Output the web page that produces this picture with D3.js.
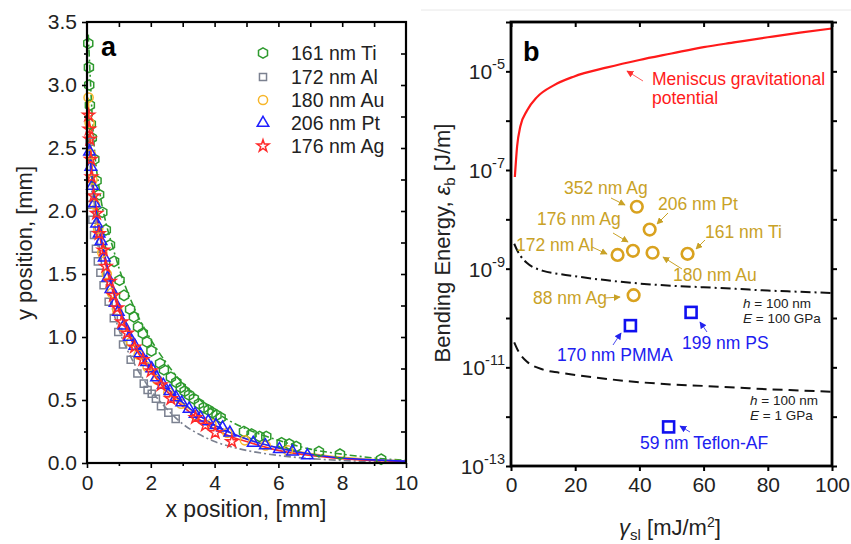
<!DOCTYPE html>
<html>
<head>
<meta charset="utf-8">
<script src="https://cdn.jsdelivr.net/npm/d3@7"></script>
<style>
  body { margin: 0; background: #fff; }
  text { font-family: "Liberation Sans", Arial, sans-serif; }
</style>
</head>
<body>
<script>
var width = 851, height = 544;

// ---- panel a data: [x mm, y mm]
var tiPts = [[0.04,3.33],[0.06,3.14],[0.07,3.00],[0.09,2.84],[0.12,2.69],[0.15,2.58],[0.23,2.41],[0.30,2.24],[0.38,2.13],[0.48,1.99],[0.59,1.85],[0.72,1.73],[0.85,1.60],[1.02,1.45],[1.16,1.33],[1.35,1.22],[1.47,1.16],[1.60,1.08],[1.75,1.03],[1.88,0.96],[2.02,0.89],[2.29,0.79],[2.41,0.74],[2.63,0.68],[2.80,0.64],[2.94,0.60],[3.06,0.57],[3.20,0.54],[3.35,0.51],[3.51,0.47],[3.66,0.44],[3.81,0.42],[3.93,0.40],[4.06,0.38],[4.19,0.36],[4.92,0.25],[5.16,0.23],[5.41,0.21],[5.62,0.21],[6.10,0.16],[6.34,0.15],[6.56,0.13],[7.27,0.09],[7.93,0.07],[9.22,0.03]];
var alPts = [[0.08,2.55],[0.12,2.05],[0.17,1.93],[0.22,1.81],[0.28,1.70],[0.34,1.60],[0.42,1.51],[0.52,1.41],[0.68,1.28],[0.84,1.15],[0.98,1.04],[1.13,0.94],[1.37,0.82],[1.58,0.71],[1.78,0.63],[1.90,0.58],[2.03,0.55],[2.16,0.51],[2.32,0.45],[2.55,0.40],[2.78,0.35]];
var auPts = [[0.05,2.90],[0.08,2.70],[0.12,2.45],[0.17,2.25],[0.25,2.05],[0.35,1.86],[0.48,1.67],[0.62,1.50],[0.78,1.35],[0.95,1.21],[1.15,1.08],[1.38,0.96],[1.62,0.86],[1.90,0.76],[2.20,0.66],[2.55,0.56],[2.95,0.47],[3.40,0.38],[3.90,0.31],[4.40,0.24],[4.95,0.18],[5.60,0.14],[6.30,0.10]];
var ptPts = [[0.08,2.47],[0.12,2.35],[0.17,2.20],[0.23,2.06],[0.30,1.90],[0.38,1.82],[0.44,1.76],[0.54,1.63],[0.65,1.47],[0.75,1.38],[0.88,1.27],[0.98,1.20],[1.16,1.09],[1.33,1.00],[1.50,0.93],[1.66,0.87],[1.87,0.80],[2.03,0.75],[2.18,0.68],[2.39,0.62],[2.60,0.57],[2.79,0.52],[2.97,0.48],[3.20,0.43],[3.39,0.39],[3.56,0.36],[3.80,0.33],[4.04,0.30],[4.25,0.28],[4.48,0.24],[5.21,0.16],[5.59,0.14],[6.03,0.11],[6.44,0.09],[6.91,0.06]];
var agPts = [[0.05,2.76],[0.07,2.65],[0.09,2.57],[0.12,2.41],[0.14,2.27],[0.21,2.12],[0.30,1.98],[0.38,1.82],[0.51,1.69],[0.59,1.56],[0.72,1.44],[0.83,1.33],[0.95,1.23],[1.09,1.12],[1.26,1.03],[1.49,0.92],[1.75,0.82],[2.01,0.73],[2.32,0.62],[2.63,0.51],[3.40,0.36],[3.71,0.30],[4.02,0.24],[4.54,0.17]];

// fitted profiles
var tiFit = [[0.04,3.40],[0.2,2.60],[0.4,2.15],[0.6,1.90],[0.8,1.72],[1.0,1.55],[1.5,1.22],[2.0,0.98],[2.5,0.79],[3.0,0.63],[3.5,0.51],[4.0,0.41],[4.5,0.33],[5.0,0.27],[6.0,0.18],[7.0,0.11],[8.0,0.07],[9.0,0.04],[10,0.02]];
var alFit = [[0.04,2.60],[0.2,2.00],[0.4,1.65],[0.6,1.42],[0.8,1.22],[1.0,1.06],[1.5,0.78],[2.0,0.58],[2.5,0.43],[3.0,0.31],[3.5,0.23],[4.0,0.17],[4.5,0.13],[5.0,0.10],[6.0,0.06],[7.0,0.035],[8.0,0.02],[10,0.006]];
var auFit = [[0.04,2.90],[0.2,2.22],[0.4,1.84],[0.6,1.58],[0.8,1.38],[1.0,1.22],[1.5,0.93],[2.0,0.74],[2.5,0.59],[3.0,0.47],[3.5,0.38],[4.0,0.30],[4.5,0.24],[5.0,0.19],[6.0,0.12],[7.0,0.075],[8.0,0.045],[9.0,0.027],[10,0.015]];
var ptFit = [[0.04,2.55],[0.2,2.18],[0.4,1.85],[0.6,1.60],[0.8,1.40],[1.0,1.24],[1.5,0.95],[2.0,0.76],[2.5,0.60],[3.0,0.48],[3.5,0.38],[4.0,0.30],[4.5,0.24],[5.0,0.19],[6.0,0.12],[7.0,0.07],[8.0,0.04],[9.0,0.025],[10,0.015]];
var agFit = [[0.04,2.80],[0.2,2.15],[0.4,1.80],[0.6,1.56],[0.8,1.37],[1.0,1.21],[1.5,0.92],[2.0,0.73],[2.5,0.57],[3.0,0.45],[3.5,0.35],[4.0,0.27],[4.5,0.21],[5.0,0.17],[6.0,0.10],[7.0,0.06],[8.0,0.035],[9.0,0.02],[10,0.012]];

var legendNames = ["161 nm Ti", "172 nm Al", "180 nm Au", "206 nm Pt", "176 nm Ag"];
var xTicksA = [0, 2, 4, 6, 8, 10];
var yTicksA = [0, 0.5, 1.0, 1.5, 2.0, 2.5, 3.0, 3.5];

// ---- panel b data: [gamma_sl mJ/m2, energy J/m]
var meniscus = [[1.2,7.2e-8],[1.9,3e-7],[2.9,7.6e-7],[5,1.6e-6],[8.1,3e-6],[13.3,5.2e-6],[19.5,7.8e-6],[30,1.2e-5],[40,1.7e-5],[50,2.3e-5],[60,3.1e-5],[70,3.9e-5],[80,4.9e-5],[90,6.1e-5],[100,7.4e-5]];
var bend100GPa = [[1,3.2e-9],[2,2.3e-9],[3,1.8e-9],[5,1.3e-9],[10,9e-10],[15,7.8e-10],[20,7e-10],[30,5.8e-10],[40,5e-10],[50,4.5e-10],[60,4.2e-10],[70,3.9e-10],[80,3.6e-10],[90,3.4e-10],[100,3.2e-10]];
var bend1GPa = [[1,3.2e-11],[2,2.3e-11],[3,1.8e-11],[5,1.3e-11],[10,9e-12],[15,7.8e-12],[20,7e-12],[30,5.8e-12],[40,5e-12],[50,4.5e-12],[60,4.2e-12],[70,3.9e-12],[80,3.6e-12],[90,3.4e-12],[100,3.2e-12]];
var metalNames = ["352 nm Ag", "206 nm Pt", "176 nm Ag", "172 nm Al", "180 nm Au", "161 nm Ti", "88 nm Ag"];
var metalGamma = [39.2, 43.2, 38.0, 33.2, 44.1, 55.0, 38.2];
var metalEnergy = [1.8e-8, 6.2e-9, 2.3e-9, 1.9e-9, 2.1e-9, 2.0e-9, 2.9e-10];
var polyNames = ["170 nm PMMA", "199 nm PS", "59 nm Teflon-AF"];
var polyGamma = [37.2, 56.1, 49.1];
var polyEnergy = [7e-11, 1.3e-10, 6.2e-13];
var xTicksB = [0, 20, 40, 60, 80, 100];
var yExpB = [-13, -11, -9, -7, -5];

var svg = d3.select("body").append("svg")
    .attr("width", width)
    .attr("height", height);

var defs = svg.append("defs");
function arrowMarker(id, color) {
  defs.append("marker").attr("id", id)
    .attr("viewBox", "0 0 10 10").attr("refX", 9).attr("refY", 5)
    .attr("markerWidth", 7).attr("markerHeight", 7).attr("orient", "auto")
    .attr("markerUnits", "userSpaceOnUse")
    .append("path").attr("d", "M0,0 L10,5 L0,10 z").attr("fill", color);
}
arrowMarker("arGold", "#c9a227");
arrowMarker("arBlue", "#2222ee");
arrowMarker("arRed", "#ff3030");

// faint separator at top of panel b
svg.append("line").attr("x1", 421).attr("x2", 851).attr("y1", 10).attr("y2", 10)
  .attr("stroke", "#e8e8e8").attr("stroke-width", 1);

// ================= panel a =================
var colA = {ti: "#2e9a2e", al: "#7b8190", au: "#f7b62a", pt: "#1f1fff", ag: "#ff2a2a"};
var xA = d3.scaleLinear().domain([0, 10]).range([87, 406]);
var yA = d3.scaleLinear().domain([0, 3.5]).range([463, 22]);
var gA = svg.append("g");

function hexPath(r) {
  var p = [];
  for (var k = 0; k < 6; k++) {
    var a = Math.PI / 180 * (-90 + 60 * k);
    p.push([r * Math.cos(a), r * Math.sin(a)]);
  }
  return "M" + p.join("L") + "Z";
}
var shapes = {
  ti: hexPath(5.2),
  al: d3.symbol().type(d3.symbolSquare).size(50)(),
  au: d3.symbol().type(d3.symbolCircle).size(66)(),
  pt: d3.symbol().type(d3.symbolTriangle).size(58)(),
  ag: d3.symbol().type(d3.symbolStar).size(44)()
};

var lineA = d3.line().x(function(d) { return xA(d[0]); }).y(function(d) { return yA(d[1]); }).curve(d3.curveMonotoneX);
var fits = [
  {k: "al", d: alFit, dash: "7,3,2,3"},
  {k: "ti", d: tiFit, dash: "7,3,2,3"},
  {k: "au", d: auFit, dash: null},
  {k: "ag", d: agFit, dash: null},
  {k: "pt", d: ptFit, dash: null}
];
fits.forEach(function(f) {
  gA.append("path").attr("d", lineA(f.d)).attr("fill", "none")
    .attr("stroke", colA[f.k]).attr("stroke-width", 1.6)
    .attr("stroke-dasharray", f.dash);
});

var series = [
  {k: "ti", d: tiPts}, {k: "al", d: alPts}, {k: "au", d: auPts},
  {k: "pt", d: ptPts}, {k: "ag", d: agPts}
];
series.forEach(function(s) {
  gA.append("g").selectAll("path").data(s.d).enter().append("path")
    .attr("d", shapes[s.k])
    .attr("transform", function(d) { return "translate(" + xA(d[0]) + "," + yA(d[1]) + ")"; })
    .attr("fill", "none").attr("stroke", colA[s.k]).attr("stroke-width", 1.5);
});

// axes a
function styleAxis(g) {
  g.select(".domain").remove();
  g.selectAll(".tick line").attr("stroke", "#000").attr("stroke-width", 1.6);
  g.selectAll("text").attr("font-size", 21).attr("fill", "#222")
    .attr("font-family", "Liberation Sans, Arial, sans-serif");
}
gA.append("g").attr("transform", "translate(0,463)")
  .call(d3.axisBottom(xA).tickValues(xTicksA).tickSize(5).tickPadding(7).tickFormat(d3.format("d")))
  .call(styleAxis);
gA.append("g").attr("transform", "translate(0,463)")
  .call(d3.axisBottom(xA).tickValues(d3.range(1, 10, 2)).tickSize(3).tickFormat(""))
  .call(styleAxis);
gA.append("g").attr("transform", "translate(87,0)")
  .call(d3.axisLeft(yA).tickValues(yTicksA).tickSize(5).tickPadding(5).tickFormat(d3.format(".1f")))
  .call(styleAxis);
gA.append("g").attr("transform", "translate(87,0)")
  .call(d3.axisLeft(yA).tickValues(d3.range(0.25, 3.5, 0.5)).tickSize(3).tickFormat(""))
  .call(styleAxis);
gA.append("g").attr("transform", "translate(0,22)")
  .call(d3.axisBottom(xA).tickValues(d3.range(1, 10)).tickSize(5).tickFormat(""))
  .call(styleAxis);
gA.append("g").attr("transform", "translate(406,0)")
  .call(d3.axisLeft(yA).tickValues(d3.range(0.25, 3.5, 0.25)).tickSize(5).tickFormat(""))
  .call(styleAxis);
gA.append("rect").attr("x", 87).attr("y", 22).attr("width", 319).attr("height", 441)
  .attr("fill", "none").attr("stroke", "#000").attr("stroke-width", 2.2);

gA.append("text").attr("x", 101).attr("y", 56).attr("font-size", 27).attr("font-weight", "bold").text("a");

// legend a
var legKeys = ["ti", "al", "au", "pt", "ag"];
var legY = [53, 77, 100, 123, 146];
legKeys.forEach(function(k, i) {
  gA.append("path").attr("d", shapes[k]).attr("transform", "translate(263," + legY[i] + ")")
    .attr("fill", "none").attr("stroke", colA[k]).attr("stroke-width", 1.5);
  gA.append("text").attr("x", 291).attr("y", legY[i] + 7).attr("font-size", 19.5)
    .attr("fill", "#222").text(legendNames[i]);
});

gA.append("text").attr("transform", "translate(32,243) rotate(-90)")
  .attr("text-anchor", "middle").attr("font-size", 22).attr("fill", "#222").text("y position, [mm]");
gA.append("text").attr("x", 246).attr("y", 517)
  .attr("text-anchor", "middle").attr("font-size", 23).attr("fill", "#222").text("x position, [mm]");

// ================= panel b =================
var xB = d3.scaleLinear().domain([0, 100]).range([511, 832]);
var yB = d3.scaleLog().domain([1e-13, 1e-4]).range([466, 22]);
var gB = svg.append("g");

var lineB = d3.line().x(function(d) { return xB(d[0]); }).y(function(d) { return yB(d[1]); }).curve(d3.curveMonotoneX);
gB.append("path").attr("d", lineB(meniscus)).attr("fill", "none").attr("stroke", "#ff1a1a").attr("stroke-width", 2.2);
gB.append("path").attr("d", lineB(bend100GPa)).attr("fill", "none").attr("stroke", "#111")
  .attr("stroke-width", 2).attr("stroke-dasharray", "10,4,2,4");
gB.append("path").attr("d", lineB(bend1GPa)).attr("fill", "none").attr("stroke", "#111")
  .attr("stroke-width", 2).attr("stroke-dasharray", "10,6");

gB.selectAll("circle.metal").data(metalGamma).enter().append("circle")
  .attr("class", "metal")
  .attr("cx", function(d) { return xB(d); })
  .attr("cy", function(d, i) { return yB(metalEnergy[i]); })
  .attr("r", 5.8).attr("fill", "none").attr("stroke", "#d9a21f").attr("stroke-width", 2.6);
gB.selectAll("rect.poly").data(polyGamma).enter().append("rect")
  .attr("class", "poly")
  .attr("x", function(d) { return xB(d) - 5.5; })
  .attr("y", function(d, i) { return yB(polyEnergy[i]) - 5.5; })
  .attr("width", 11).attr("height", 11)
  .attr("fill", "none").attr("stroke", "#1010f0").attr("stroke-width", 2.6);

// axes b
function styleAxisB(g) {
  g.select(".domain").remove();
  g.selectAll(".tick line").attr("stroke", "#000").attr("stroke-width", 2);
  g.selectAll("text").attr("font-size", 21).attr("fill", "#222")
    .attr("font-family", "Liberation Sans, Arial, sans-serif");
}
gB.append("g").attr("transform", "translate(0,466)")
  .call(d3.axisBottom(xB).tickValues(xTicksB).tickSize(5).tickPadding(6).tickFormat(d3.format("d")))
  .call(styleAxisB);
gB.append("g").attr("transform", "translate(0,22)")
  .call(d3.axisBottom(xB).tickValues(xTicksB).tickSize(5).tickFormat(""))
  .call(styleAxisB);
var decades = d3.range(-13, -3).map(function(e) { return Math.pow(10, e); });
gB.append("g").attr("transform", "translate(511,0)")
  .call(d3.axisLeft(yB).tickValues(decades).tickSize(5).tickFormat(""))
  .call(styleAxisB);
gB.append("g").attr("transform", "translate(832,0)")
  .call(d3.axisRight(yB).tickValues(decades).tickSize(5).tickFormat(""))
  .call(styleAxisB);
yExpB.forEach(function(e) {
  var t = gB.append("text").attr("x", 505).attr("y", yB(Math.pow(10, e)) + 8)
    .attr("text-anchor", "end").attr("font-size", 21).attr("fill", "#222");
  t.append("tspan").text("10");
  t.append("tspan").attr("dy", -10).attr("font-size", 14.5).text(String(e));
});
gB.append("rect").attr("x", 511).attr("y", 22).attr("width", 321).attr("height", 444)
  .attr("fill", "none").attr("stroke", "#000").attr("stroke-width", 2.8);

gB.append("text").attr("x", 523).attr("y", 61).attr("font-size", 27).attr("font-weight", "bold").text("b");

// annotations b
function arrow(x1, y1, x2, y2, m, col) {
  gB.append("line").attr("x1", x1).attr("y1", y1).attr("x2", x2).attr("y2", y2)
    .attr("stroke", col).attr("stroke-width", 1).attr("marker-end", "url(#" + m + ")");
}
var gold = "#c9a227";
var labelPos = [[564, 194], [658, 210], [537, 225], [516, 251], [673, 281], [705, 238], [533, 304]];
metalNames.forEach(function(n, i) {
  gB.append("text").attr("x", labelPos[i][0]).attr("y", labelPos[i][1]).attr("font-size", 17.5)
    .attr("fill", gold).text(n);
});
arrow(611, 198, 625, 205, "arGold", gold);
arrow(668, 213, 657, 224, "arGold", gold);
arrow(613, 233, 628, 242, "arGold", gold);
arrow(592, 247, 607, 254, "arGold", gold);
arrow(705, 240, 696, 249, "arGold", gold);
arrow(682, 269, 663, 257, "arGold", gold);
arrow(605, 298, 620, 297, "arGold", gold);

var blue = "#2020f0";
var polyPos = [[557, 361], [682, 349], [640, 449]];
polyNames.forEach(function(n, i) {
  gB.append("text").attr("x", polyPos[i][0]).attr("y", polyPos[i][1]).attr("font-size", 17.5)
    .attr("fill", blue).text(n);
});
arrow(613, 345, 621, 333, "arBlue", "#4a4af0");
arrow(707, 332, 700, 322, "arBlue", "#4a4af0");
arrow(690, 432, 680, 426, "arBlue", "#4a4af0");

gB.append("text").attr("x", 652).attr("y", 85).attr("font-size", 17.5).attr("fill", "#ff1a1a").text("Meniscus gravitational");
gB.append("text").attr("x", 652).attr("y", 104).attr("font-size", 17.5).attr("fill", "#ff1a1a").text("potential");
arrow(643, 81, 627, 71, "arRed", "#ff6060");

function hE(x, y, sym, rest) {
  var t = gB.append("text").attr("x", x).attr("y", y).attr("font-size", 13.5).attr("fill", "#222");
  t.append("tspan").attr("font-style", "italic").text(sym);
  t.append("tspan").text(rest);
}
hE(743, 308, "h", " = 100 nm");
hE(743, 323, "E", " = 100 GPa");
hE(750, 405, "h", " = 100 nm");
hE(750, 420, "E", " = 1 GPa");

var yl = gB.append("text").attr("transform", "translate(450,243) rotate(-90)")
  .attr("text-anchor", "middle").attr("font-size", 22).attr("fill", "#222");
yl.append("tspan").text("Bending Energy, ");
yl.append("tspan").attr("font-style", "italic").text("ε");
yl.append("tspan").attr("dy", 5).attr("font-size", 15).text("b");
yl.append("tspan").attr("dy", -5).text(" [J/m]");

var xl = gB.append("text").attr("x", 670).attr("y", 535)
  .attr("text-anchor", "middle").attr("font-size", 22).attr("fill", "#222");
xl.append("tspan").attr("font-style", "italic").text("γ");
xl.append("tspan").attr("dy", 5).attr("font-size", 15).text("sl");
xl.append("tspan").attr("dy", -5).text(" [mJ/m");
xl.append("tspan").attr("dy", -8).attr("font-size", 14).text("2");
xl.append("tspan").attr("dy", 8).text("]");
</script>
</body>
</html>
